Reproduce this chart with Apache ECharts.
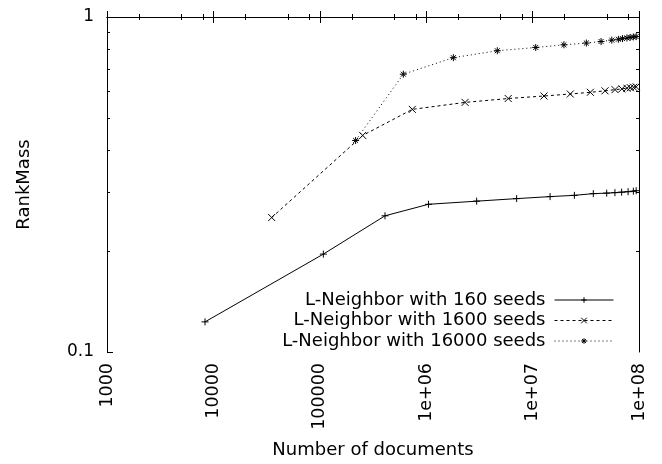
<!DOCTYPE html>
<html>
<head>
<meta charset="utf-8">
<script src="https://cdn.jsdelivr.net/npm/echarts@6/dist/echarts.min.js"></script>
<style>
html,body{margin:0;padding:0;background:#fff;}
#chart{width:662px;height:464px;}
</style>
</head>
<body>
<div id="chart"></div>
<script>
// ---- data (x = number of documents, y = RankMass) ----
const seriesNames = ['L-Neighbor with 160 seeds', 'L-Neighbor with 1600 seeds', 'L-Neighbor with 16000 seeds'];
const docs160  = [8340, 1.08e5, 4.1e5, 1.05e6, 2.98e6, 7.08e6, 1.46e7, 2.47e7, 3.72e7, 4.97e7, 5.94e7, 6.87e7, 7.9e7, 8.85e7, 9.4e7];
const mass160  = [0.123, 0.196, 0.255, 0.276, 0.282, 0.287, 0.291, 0.2935, 0.297, 0.298, 0.299, 0.300, 0.301, 0.302, 0.303];
const docs1600 = [3.53e4, 2.53e5, 7.4e5, 2.32e6, 5.9e6, 1.28e7, 2.26e7, 3.49e7, 4.79e7, 5.95e7, 6.9e7, 7.7e7, 8.3e7, 8.9e7, 9.4e7];
const mass1600 = [0.252, 0.443, 0.530, 0.556, 0.571, 0.581, 0.589, 0.596, 0.602, 0.607, 0.610, 0.613, 0.615, 0.617, 0.619];
const docs16000 = [2.17e5, 6.1e5, 1.8e6, 4.66e6, 1.07e7, 1.97e7, 3.2e7, 4.4e7, 5.55e7, 6.4e7, 7.0e7, 7.7e7, 8.25e7, 8.85e7, 9.4e7];
const mass16000 = [0.428, 0.675, 0.756, 0.793, 0.811, 0.826, 0.836, 0.845, 0.853, 0.858, 0.862, 0.866, 0.869, 0.872, 0.874];

const xTickLabels = ['1000', '10000', '100000', '1e+06', '1e+07', '1e+08'];
const xTickExponents = [3, 4, 5, 6, 7, 8];
const xMinorMultipliers = [2, 5, 8];
const yTickLabels = ['0.1', '1'];
const yMinorValues = [0.2, 0.3, 0.4, 0.5, 0.6, 0.7, 0.8, 0.9];

// ---- build ----
function zip(a, b) { return a.map((v, i) => [v, b[i]]); }
const xMinorLog = [];
xTickExponents.slice(0, -1).forEach(e => xMinorMultipliers.forEach(m => xMinorLog.push(e + Math.log10(m))));
const yMinorLog = yMinorValues.map(v => Math.log10(v));

const FONT = 'DejaVu Sans';
const black = '#000';
const plus = 'path://M0,5L10,5M5,0L5,10';
const cross = 'path://M0,0L10,10M10,0L0,10';
const star = 'path://M0,5L10,5M5,0L5,10M1.5,1.5L8.5,8.5M8.5,1.5L1.5,8.5';

function mkSeries(name, data, symbol, type) {
  return {
    name: name, type: 'line', data: data, xAxisIndex: 0, yAxisIndex: 0,
    symbol: symbol, symbolSize: 7, showAllSymbol: true,
    itemStyle: { color: black, borderColor: black, borderWidth: 1 },
    lineStyle: { color: black, width: 1, type: type },
    emphasis: { disabled: true }, silent: true
  };
}

const hiddenVal = (extra) => Object.assign({
  type: 'value', gridIndex: 0, splitLine: { show: false },
  axisLabel: { show: false }, axisLine: { show: false, lineStyle: { color: black } }
}, extra);

const option = {
  animation: false,
  backgroundColor: '#fff',
  textStyle: { fontFamily: FONT, color: black },
  grid: { left: 107, right: 23, top: 17, bottom: 109, containLabel: false },
  legend: {
    data: seriesNames, orient: 'vertical', align: 'right',
    right: 48, top: 291, padding: 0, itemGap: 2.5,
    itemWidth: 59, itemHeight: 7,
    itemStyle: { borderWidth: 1 },
    lineStyle: { width: 1 },
    textStyle: { fontFamily: FONT, fontSize: 18, color: black, lineHeight: 18, padding: [0, 4, 0, 0] },
    selectedMode: false
  },
  xAxis: [
    {
      type: 'log', logBase: 10, min: 1000, max: 1e8, position: 'bottom',
      axisLine: { lineStyle: { color: black, width: 1 } },
      axisTick: { inside: true, length: 6, lineStyle: { color: black } },
      minorTick: { show: false }, splitLine: { show: false },
      axisLabel: {
        rotate: 90, margin: 11, fontFamily: FONT, fontSize: 17.5, color: black,
        formatter: v => { const i = xTickExponents.indexOf(Math.round(Math.log10(v))); return i >= 0 ? xTickLabels[i] : ''; }
      },
      name: 'Number of documents', nameLocation: 'middle', nameGap: 89,
      nameTextStyle: { fontFamily: FONT, fontSize: 18, color: black }
    },
    hiddenVal({ min: 3, max: 8, position: 'bottom', axisTick: { show: true, inside: true, length: 3, customValues: xMinorLog, lineStyle: { color: black } } }),
    hiddenVal({ min: 3, max: 8, interval: 1, position: 'top', axisLine: { show: true, lineStyle: { color: black, width: 1 } }, axisTick: { show: true, inside: true, length: 6, lineStyle: { color: black } } }),
    hiddenVal({ min: 3, max: 8, position: 'top', axisTick: { show: true, inside: true, length: 3, customValues: xMinorLog, lineStyle: { color: black } } })
  ],
  yAxis: [
    {
      type: 'log', logBase: 10, min: 0.1, max: 1, position: 'left',
      axisLine: { lineStyle: { color: black, width: 1 } },
      axisTick: { inside: true, length: 6, lineStyle: { color: black } },
      minorTick: { show: false }, splitLine: { show: false },
      axisLabel: {
        margin: 13, fontFamily: FONT, fontSize: 17, color: black,
        formatter: v => { const i = Math.round(Math.log10(v)) + 1; return yTickLabels[i] !== undefined ? yTickLabels[i] : ''; }
      },
      name: 'RankMass', nameLocation: 'middle', nameRotate: 90, nameGap: 74,
      nameTextStyle: { fontFamily: FONT, fontSize: 18, color: black }
    },
    hiddenVal({ min: -1, max: 0, position: 'left', axisTick: { show: true, inside: true, length: 3, customValues: yMinorLog, lineStyle: { color: black } } }),
    hiddenVal({ min: -1, max: 0, position: 'right', axisLine: { show: true, lineStyle: { color: black, width: 1 } }, axisTick: { show: true, inside: true, length: 3, customValues: yMinorLog, lineStyle: { color: black } } })
  ],
  series: [
    mkSeries(seriesNames[0], zip(docs160, mass160), plus, 'solid'),
    mkSeries(seriesNames[1], zip(docs1600, mass1600), cross, [3, 3]),
    mkSeries(seriesNames[2], zip(docs16000, mass16000), star, [1, 3])
  ]
};

const chart = echarts.init(document.getElementById('chart'), null, { renderer: 'canvas' });
chart.setOption(option);
</script>
</body>
</html>
